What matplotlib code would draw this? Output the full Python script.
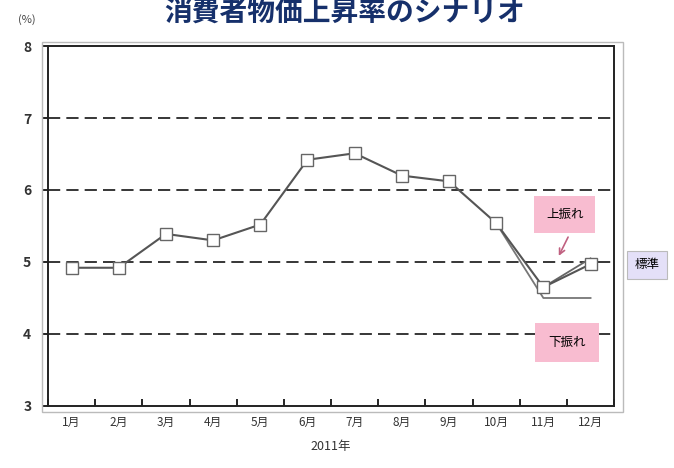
import matplotlib.pyplot as plt
from matplotlib.patches import Rectangle

plt.rcParams['font.family'] = ['Noto Sans CJK JP', 'DejaVu Sans']

# monthly CPI growth rate (%), 2011
months = ['1月', '2月', '3月', '4月', '5月', '6月', '7月', '8月', '9月', '10月', '11月', '12月']
standard = [4.92, 4.92, 5.39, 5.30, 5.52, 6.42, 6.51, 6.20, 6.12, 5.54, 4.65, 4.97]
upside_x = [11, 12]
upside = [4.65, 5.05]
downside_x = [10, 11, 12]
downside = [5.54, 4.50, 4.50]
yticks = [3, 4, 5, 6, 7, 8]

fig = plt.figure(figsize=(6.74, 4.68), dpi=100)
ax = fig.add_axes([0.0712, 0.1325, 0.84, 0.7692])

x = list(range(1, 13))
line_color = '#555555'
ax.plot(downside_x, downside, color='#777777', lw=1.3, zorder=3)
ax.plot(upside_x, upside, color='#666666', lw=1.3, zorder=3)
ax.plot(x, standard, color=line_color, lw=1.5, marker='s', ms=8,
        mfc='white', mec='#666666', mew=1.0, zorder=4)

ax.set_xlim(0.5, 12.5)
ax.set_ylim(3, 8)
ax.set_yticks(yticks)
ax.set_yticklabels([str(v) for v in yticks], fontsize=10, fontweight='bold',
                   color='#333333')
for v in [4, 5, 6, 7]:
    ax.axhline(v, color='black', lw=1.1, ls=(0, (8, 4)), zorder=1)

# category boundaries as ticks, labels centred on each month
ax.set_xticks([i + 0.5 for i in range(0, 13)])
ax.set_xticklabels([])
ax.set_xticks(x, minor=True)
ax.set_xticklabels(months, minor=True, fontsize=8.5, color='#333333')
ax.tick_params(axis='x', which='minor', length=0, pad=7)
ax.tick_params(axis='x', which='major', length=5, direction='in', width=1.2)
ax.tick_params(axis='y', length=4, width=1.2, direction='out', pad=8)
for s in ax.spines.values():
    s.set_linewidth(1.4)
    s.set_color('#222222')

ax.set_xlabel('2011年', fontsize=9, labelpad=8, color='#333333')
fig.text(0.04, 0.958, '(%)', fontsize=8, ha='center', va='center', color='#444444')
fig.text(0.512, 0.972, '消費者物価上昇率のシナリオ', fontsize=20, fontweight='bold',
         color='#16306b', ha='center', va='center')

# scenario labels
ax.text(11.45, 5.66, '上振れ', fontsize=9, ha='center', va='center', zorder=6,
        bbox=dict(boxstyle='square,pad=0.95', fc='#f8bcd0', ec='none'))
ax.annotate('', xy=(11.3, 5.05), xytext=(11.55, 5.38),
            arrowprops=dict(arrowstyle='->', color='#c06080', lw=1.2), zorder=6)
ax.text(11.5, 3.88, '下振れ', fontsize=9, ha='center', va='center', zorder=6,
        bbox=dict(boxstyle='square,pad=1.05', fc='#f8bcd0', ec='none'))
ax.text(13.2, 4.96, '標準', fontsize=9, ha='center', va='center', zorder=6,
        clip_on=False,
        bbox=dict(boxstyle='square,pad=0.6', fc='#e4e0f8', ec='#bbbbbb', lw=0.8))

# outer chart border
fig.patches.append(Rectangle((0.062, 0.12), 0.862, 0.79, transform=fig.transFigure,
                             fill=False, ec='#bbbbbb', lw=1.0))

fig.savefig('out.png', dpi=100)
